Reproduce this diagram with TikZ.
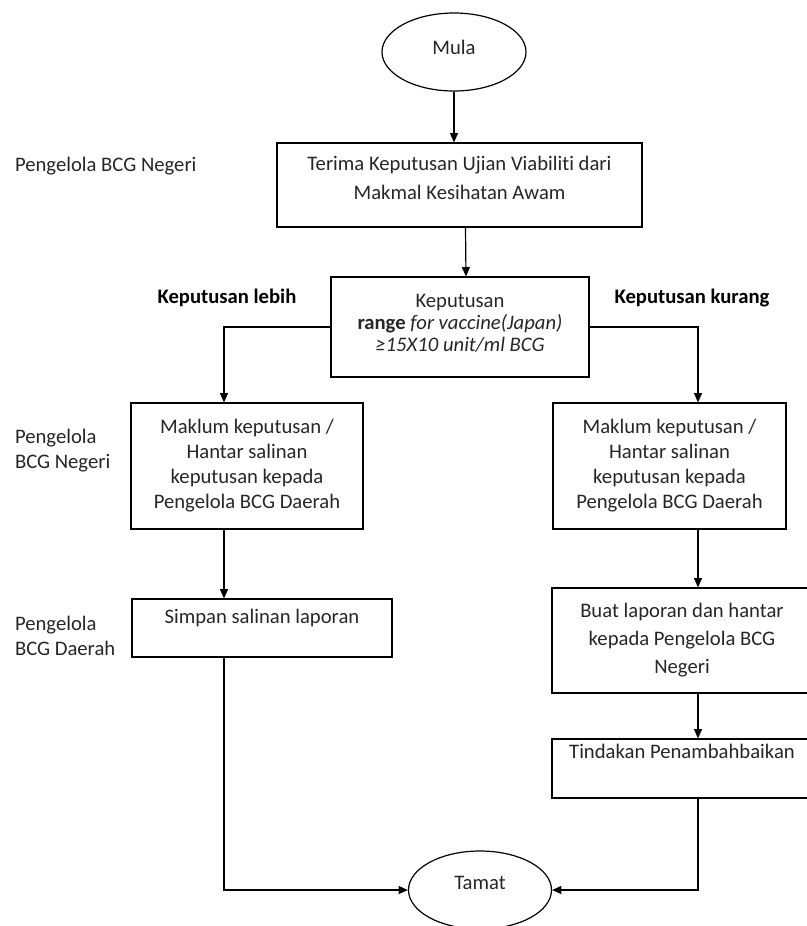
\documentclass[tikz,border=0pt]{standalone}
\usepackage{fontspec}
\setmainfont{Carlito}[Ligatures=NoCommon]
\usetikzlibrary{arrows.meta,positioning,shapes.geometric}
\begin{document}
\begin{tikzpicture}[x=0.75pt,y=-0.75pt,>={Triangle[length=7pt,width=6pt]},line width=0.9pt,
  font=\fontsize{15.5}{19.5}\selectfont,
  box/.style={draw,align=center,inner sep=2pt,text=black!85},
  term/.style={draw,ellipse,inner sep=0pt,text=black!85,minimum width=108pt,minimum height=58.5pt},
  side/.style={anchor=west,align=left,text=black!85},
  cond/.style={font=\fontsize{15.5}{19.5}\selectfont\bfseries}]
\useasboundingbox (0,0) rectangle (807,926);
\node[term,text depth=7.5pt] (mula) at (454,52) {Mula};
\node[box,minimum width=273.75pt,minimum height=63pt,text depth=10.5pt,font=\fontsize{15.5}{21.75}\selectfont] (terima) at (459.5,185)
  {Terima Keputusan Ujian Viabiliti dari\\Makmal Kesihatan Awam};
\node[box,minimum width=193.5pt,minimum height=75pt,text depth=6pt,font=\fontsize{15.5}{16.5}\selectfont] (keputusan) at (460,327)
  {Keputusan\\\textbf{range} \textit{for vaccine(Japan)}\\\textit{≥15X10 unit/ml BCG}};
\node[box,minimum width=174pt,minimum height=94.5pt,font=\fontsize{15.5}{18.75}\selectfont] (maklumL) at (247,466)
  {Maklum keputusan /\\Hantar salinan\\keputusan kepada\\Pengelola BCG Daerah};
\node[box,minimum width=174.75pt,minimum height=94.5pt,font=\fontsize{15.5}{18.75}\selectfont] (maklumR) at (669.5,466)
  {Maklum keputusan /\\Hantar salinan\\keputusan kepada\\Pengelola BCG Daerah};
\node[box,minimum width=195pt,minimum height=43.5pt,text depth=17pt] (simpan) at (262,628) {Simpan salinan laporan};
\node[box,minimum width=195pt,minimum height=78.75pt,font=\fontsize{15.5}{21}\selectfont] (buat) at (682,640.5)
  {Buat laporan dan hantar\\kepada Pengelola BCG\\Negeri};
\node[box,minimum width=195pt,minimum height=44.25pt,text depth=25.5pt] (tindakan) at (682,768.5) {Tindakan Penambahbaikan};
\node[term,minimum width=107.25pt,text depth=10.5pt] (tamat) at (480,890) {Tamat};
\node[side] (lblNegeri) at (10,166) {Pengelola BCG Negeri};
\node[side,font=\fontsize{15.5}{18.75}\selectfont] (lblNegeri2) at (10,450.5) {Pengelola\\BCG Negeri};
\node[side,font=\fontsize{15.5}{18.75}\selectfont] (lblDaerah) at (10,635.5) {Pengelola\\BCG Daerah};
\node[cond] (lebih) at (227,298) {Keputusan lebih};
\node[cond] (kurang) at (692,298) {Keputusan kurang};
\coordinate (lcol) at (224,0);
\coordinate (rcol) at (698,0);
\draw[->] (mula.south) -- (mula.south |- terima.north);
\draw[->] ([xshift=4.5pt]terima.south) -- ([xshift=4.5pt]keputusan.north);
\draw[->] (keputusan.west) -| (lcol |- maklumL.north);
\draw[->] (keputusan.east) -| (rcol |- maklumR.north);
\draw[->] (lcol |- maklumL.south) -- (lcol |- simpan.north);
\draw[->] (lcol |- simpan.south) |- (tamat.west);
\draw[->] (rcol |- maklumR.south) -- (rcol |- buat.north);
\draw[->] (rcol |- buat.south) -- (rcol |- tindakan.north);
\draw[->] (rcol |- tindakan.south) |- (tamat.east);
\end{tikzpicture}
\end{document}
